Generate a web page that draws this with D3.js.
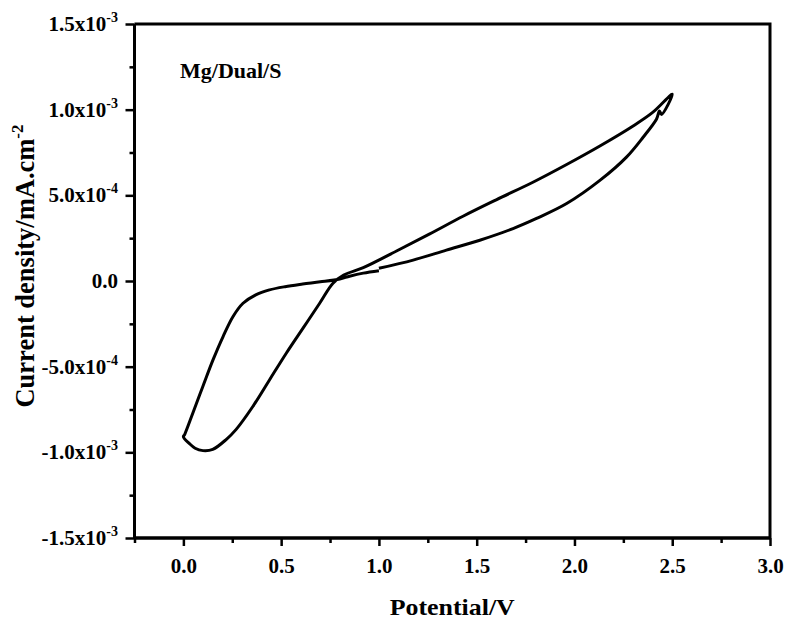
<!DOCTYPE html>
<html>
<head>
<meta charset="utf-8">
<script src="https://cdn.jsdelivr.net/npm/d3@7"></script>
<style>
  html, body { margin: 0; padding: 0; background: #fff; }
  svg { display: block; }
  text { font-family: "Liberation Serif", "Times New Roman", serif; font-weight: bold; fill: #000; }
</style>
</head>
<body>
<svg id="chart" width="787" height="620"></svg>
<script>
// Potential (V) along the closed CV loop
const potential = [
  1.00, 0.92, 0.85, 0.80, 0.70, 0.61, 0.52, 0.44, 0.37, 0.305, 0.254, 0.203, 0.152, 0.10, 0.049, 0.007, 0.0,
  0.03, 0.06, 0.10, 0.15, 0.22, 0.27, 0.356, 0.441, 0.527, 0.612, 0.697, 0.765, 0.82, 0.92,
  1.09, 1.26, 1.43, 1.60, 1.79, 1.96, 2.13, 2.30, 2.40, 2.50,
  2.445, 2.435, 2.42, 2.351, 2.266, 2.13, 1.96, 1.806, 1.686, 1.516, 1.345, 1.175, 1.00
];
// Current density (x10^-3 mA.cm^-2)
const current = [
  0.060, 0.046, 0.028, 0.012, -0.005, -0.018, -0.033, -0.052, -0.081, -0.13, -0.207, -0.324, -0.459, -0.614, -0.769, -0.895, -0.91,
  -0.948, -0.976, -0.99, -0.983, -0.924, -0.866, -0.731, -0.576, -0.42, -0.275, -0.13, -0.013, 0.035, 0.078,
  0.175, 0.275, 0.378, 0.474, 0.578, 0.68, 0.788, 0.905, 0.984, 1.09,
  0.972, 0.992, 0.946, 0.839, 0.723, 0.587, 0.452, 0.365, 0.306, 0.238, 0.18, 0.122, 0.074
];
const xTicks = [0.0, 0.5, 1.0, 1.5, 2.0, 2.5, 3.0];
const xTickLabels = ["0.0", "0.5", "1.0", "1.5", "2.0", "2.5", "3.0"];
const xMinorTicks = [-0.25, 0.25, 0.75, 1.25, 1.75, 2.25, 2.75];
const yTicks = [-1.5, -1.0, -0.5, 0.0, 0.5, 1.0, 1.5];
const yTickMantissa = ["-1.5", "-1.0", "-5.0", "0.0", "5.0", "1.0", "1.5"];
const yTickExponent = ["-3", "-3", "-4", "", "-4", "-3", "-3"];
const yMinorTicks = [-1.25, -0.75, -0.25, 0.25, 0.75, 1.25];
const annotation = "Mg/Dual/S";
const xTitle = "Potential/V";
const yTitle = "Current density/mA.cm";
const yTitleSup = "-2";

(function () {
const svg = d3.select("#chart");
const mLeft = 134.5, mRight = 770, mTop = 24, mBottom = 538;

const x = d3.scaleLinear().domain([-0.25, 3.0]).range([mLeft, mRight]);
const y = d3.scaleLinear().domain([-1.5, 1.5]).range([mBottom, mTop]);

// frame (top and right)
svg.append("path")
  .attr("d", `M${mLeft},${mTop}H${mRight}V${mBottom}`)
  .attr("fill", "none").attr("stroke", "#000").attr("stroke-width", 3);

// bottom axis
const gx = svg.append("g").attr("transform", `translate(0,${mBottom})`);
gx.call(d3.axisBottom(x).tickValues(xTicks).tickSize(8).tickFormat((d, i) => xTickLabels[i]));
gx.append("g").call(d3.axisBottom(x).tickValues(xMinorTicks).tickSize(5).tickFormat(""));
gx.selectAll(".domain").attr("stroke", "#000").attr("stroke-width", 3).attr("d", `M${mLeft},0H${mRight}`);
gx.selectAll(".tick line").attr("stroke", "#000").attr("stroke-width", 2.5);
gx.selectAll(".tick text").attr("y", 35).attr("dy", null)
  .style("font-size", "21px").style("font-family", "'Liberation Serif', serif").style("font-weight", "bold");

// left axis
const gy = svg.append("g").attr("transform", `translate(${mLeft},0)`);
gy.call(d3.axisLeft(y).tickValues(yTicks).tickSize(9).tickFormat(""));
gy.append("g").call(d3.axisLeft(y).tickValues(yMinorTicks).tickSize(5).tickFormat(""));
gy.selectAll(".domain").attr("stroke", "#000").attr("stroke-width", 3).attr("d", `M0,${mTop}V${mBottom}`);
gy.selectAll(".tick line").attr("stroke", "#000").attr("stroke-width", 2.5);

// y tick labels with superscripts
const ylab = svg.append("g");
yTicks.forEach((v, i) => {
  const t = ylab.append("text")
    .attr("x", 118).attr("y", y(v) + 7)
    .attr("text-anchor", "end")
    .style("font-size", "21px");
  if (yTickExponent[i]) {
    t.append("tspan").text(yTickMantissa[i] + "x10");
    t.append("tspan").attr("dy", -9).style("font-size", "14px").text(yTickExponent[i]);
  } else {
    t.text(yTickMantissa[i]);
  }
});

// curve
const pts = potential.map((v, i) => [v, current[i]]);
svg.append("path")
  .datum(pts)
  .attr("d", d3.line().x(d => x(d[0])).y(d => y(d[1])).curve(d3.curveCatmullRom.alpha(0.5)))
  .attr("fill", "none").attr("stroke", "#000").attr("stroke-width", 3)
  .attr("stroke-linejoin", "round");

// annotation
svg.append("text").attr("x", 180).attr("y", 78).style("font-size", "22px").text(annotation);

// x title
svg.append("text").attr("x", (mLeft + mRight) / 2).attr("y", 615)
  .attr("text-anchor", "middle").style("font-size", "24px")
  .attr("textLength", 125).attr("lengthAdjust", "spacingAndGlyphs")
  .text(xTitle);

// y title
const yt = svg.append("text")
  .attr("transform", "translate(34,266) rotate(-90)")
  .attr("text-anchor", "middle").style("font-size", "26.5px");
yt.append("tspan").text(yTitle);
yt.append("tspan").attr("dy", -11).style("font-size", "17px").text(yTitleSup);
})();
</script>
</body>
</html>
